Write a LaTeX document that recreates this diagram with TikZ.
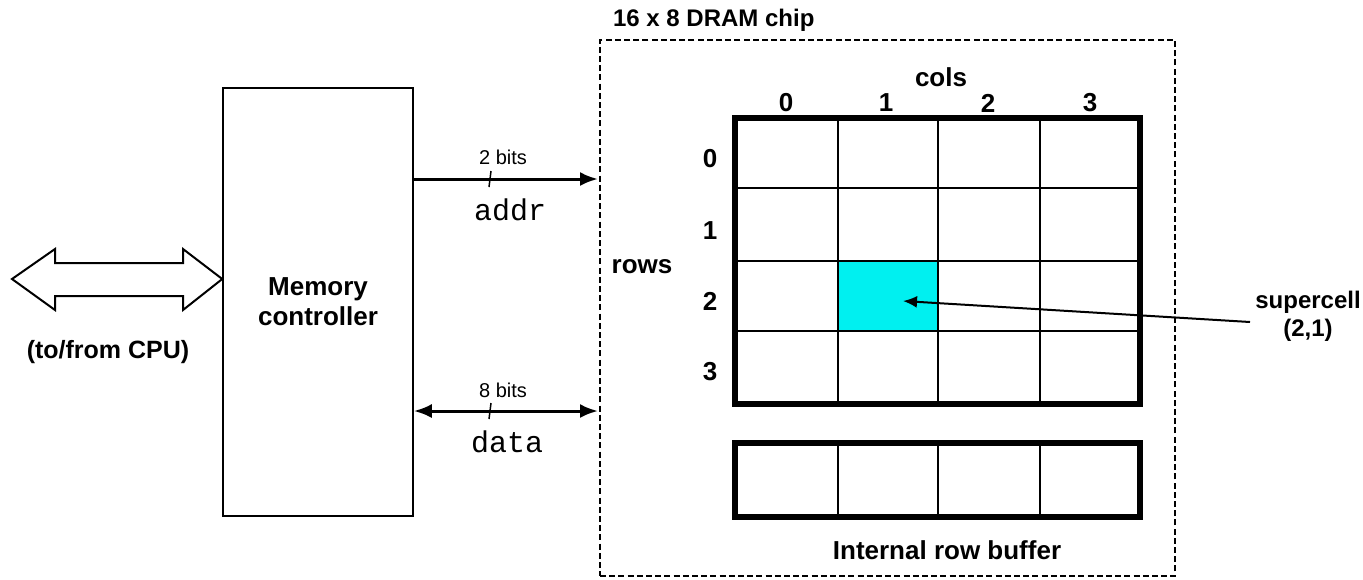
\documentclass[tikz,border=0pt]{standalone}
\usepackage{fontspec}
\setmainfont{Liberation Sans}
\setmonofont{Liberation Mono}
\usetikzlibrary{arrows.meta}
\definecolor{cellcyan}{RGB}{0, 240, 240}
\tikzset{
    labelbf/.style={font=\fontsize{13}{15}\selectfont\bfseries},
    smalllabel/.style={font=\fontsize{10}{12}\selectfont},
    busname/.style={font=\fontsize{15}{17}\selectfont\ttfamily},
    thinline/.style={line width=0.75pt, color=black},
    thickframe/.style={line width=2.6pt, color=black},
    busarrow/.style={line width=1.5pt, -{Latex[length=9pt,width=7pt]}},
    busdouble/.style={line width=1.5pt, {Latex[length=9pt,width=7pt]}-{Latex[length=9pt,width=7pt]}}
}
\begin{document}
\begin{tikzpicture}[x=0.5pt, y=-0.5pt]
        \useasboundingbox (0,0) rectangle (1363,579);

        % memory controller and chip outline
        \node[draw, thinline, minimum width=95pt, minimum height=214pt, labelbf, align=center] (mc) at (318,302) {Memory\\controller};
        \node[draw, line width=0.75pt, dash pattern=on 3pt off 1.6pt, minimum width=287.5pt, minimum height=268pt] (chip) at (887.5,308) {};
        \node[labelbf, font=\fontsize{12}{14}\selectfont\bfseries, anchor=west] (chiplabel) at (606,20) {16 x 8 DRAM chip};

        % CPU side
        \coordinate (cpu) at (12,279);
        \draw[thinline, line width=1pt, line join=miter] (cpu) -- (55,249) -- (55,263) -- (183,263) -- (183,249) -- (mc.west |- cpu)
            -- (183,310) -- (183,296) -- (55,296) -- (55,310) -- cycle;
        \node[labelbf, font=\fontsize{12.5}{15}\selectfont\bfseries] (cpulabel) at (108,352) {(to/from CPU)};

        % address and data buses
        \coordinate (addr) at (598,179);
        \coordinate (data) at (598,411);
        \draw[busarrow] (mc.east |- addr) -- (addr);
        \draw[busdouble] (mc.east |- data) -- (data);
        \draw[thinline] (489,187) -- (491,171);
        \draw[thinline] (489,419) -- (491,403);
        \node[smalllabel] (addrbits) at (503,157) {2 bits};
        \node[smalllabel] (databits) at (503,390) {8 bits};
        \node[busname] (addrname) at (510,210) {addr};
        \node[busname] (dataname) at (507,442) {data};

        % DRAM array
        \fill[cellcyan] (838,261) rectangle (938,331);
        \foreach \x in {838,938,1040} {
            \draw[thinline] (\x,118) -- (\x,404);
            \draw[thinline] (\x,443) -- (\x,517);
        }
        \foreach \y in {188,261,331} {
            \draw[thinline] (735,\y) -- (1140,\y);
        }
        \node[draw, thickframe, minimum width=202.5pt, minimum height=143pt] (array) at (937.5,261) {};
        \node[draw, thickframe, minimum width=202.5pt, minimum height=37pt] (rowbuf) at (937.5,480) {};

        \node[labelbf] (cols) at (941,77) {cols};
        \node[labelbf] (c0) at (786,103) {0};
        \node[labelbf] (c1) at (886,103) {1};
        \node[labelbf] (c2) at (988,103) {2};
        \node[labelbf] (c3) at (1090,103) {3};
        \node[labelbf] (rows) at (642,267) {rows};
        \node[labelbf] (r0) at (710,159) {0};
        \node[labelbf] (r1) at (710,231) {1};
        \node[labelbf] (r2) at (710,301) {2};
        \node[labelbf] (r3) at (710,372) {3};
        \node[labelbf] (buflabel) at (947,550) {Internal row buffer};

        % supercell pointer
        \node[labelbf, font=\fontsize{12}{14}\selectfont\bfseries, align=center] (super) at (1308,316) {supercell\\(2,1)};
        \coordinate (superend) at (1250,322);
        \coordinate (cell) at (903,301);
        \draw[line width=1pt, -{Latex[length=7pt,width=6pt]}] (superend) -- (cell);
\end{tikzpicture}
\end{document}
